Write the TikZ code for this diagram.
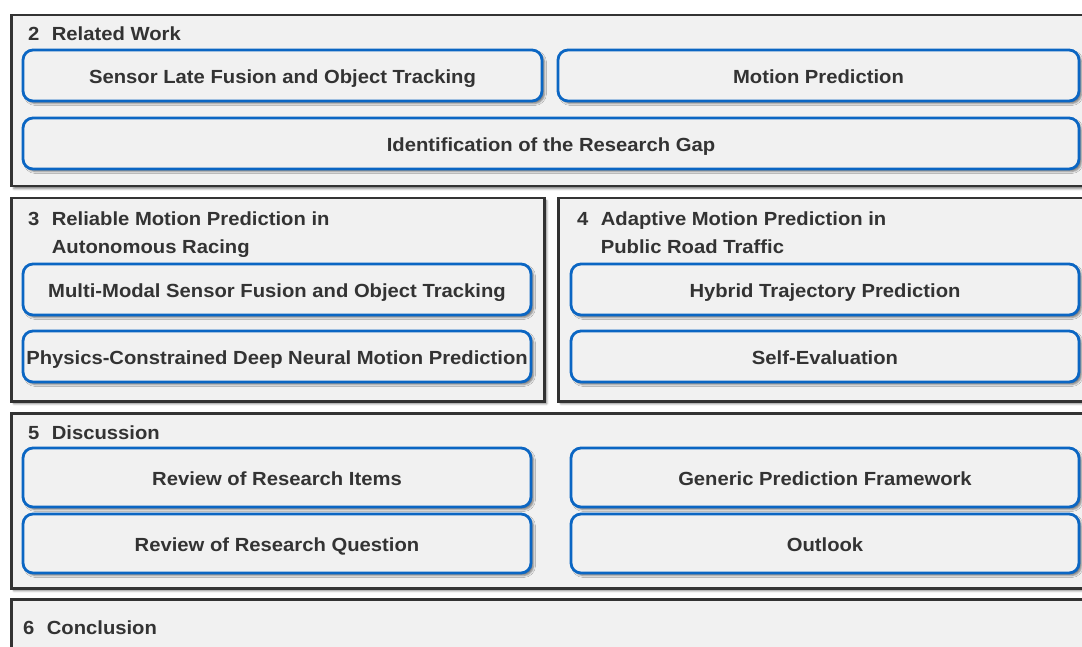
\documentclass[tikz,border=0pt]{standalone}
\usepackage{fontspec}
\setmainfont{Liberation Sans}[FakeStretch=1.065]
\usepackage{xcolor}
\usetikzlibrary{shadows.blur}

\definecolor{framegray}{HTML}{333333}
\definecolor{itemblue}{HTML}{0B66C3}
\definecolor{panelfill}{HTML}{F1F1F1}
\definecolor{textgray}{HTML}{333333}

\begin{document}
\begin{tikzpicture}[
    x=1pt, y=-1pt,
    panel/.style={rectangle, draw=framegray, line width=2.5pt, fill=panelfill, anchor=north west, inner sep=0pt,
        blur shadow={shadow xshift=2.5pt, shadow yshift=-2.5pt, shadow blur radius=2pt, shadow opacity=50}},
    item/.style={rectangle, draw=itemblue, line width=2.8pt, fill=panelfill, rounded corners=10pt, inner sep=0pt,
        minimum height=51pt, text height=16.5pt, text depth=0pt, text=textgray, font=\fontsize{19}{22}\selectfont\bfseries,
        blur shadow={shadow xshift=2.5pt, shadow yshift=-2.5pt, shadow blur radius=2pt, shadow opacity=50}},
    heading/.style={anchor=base west, inner sep=0pt, align=left, text=textgray, font=\fontsize{19}{28}\selectfont\bfseries}
]
\useasboundingbox (0,0) rectangle (1082,647);
\clip (0,0) rectangle (1082,647);

% Chapter 2
\node[panel, minimum width=1080pt, minimum height=171pt] (sec2) at (10,14) {};
\node[heading] (head2) at (28,41) {2\hskip0.65em Related Work};
\node[item, minimum width=519pt] (latefusion) at (282.5,75.5) {Sensor Late Fusion and Object Tracking};
\node[item, minimum width=521pt] (motionpred) at (818.5,75.5) {Motion Prediction};
\node[item, minimum width=1056pt] (researchgap) at (551,143.5) {Identification of the Research Gap};

% Chapter 3 (base = last line)
\node[panel, minimum width=533pt, minimum height=203pt] (sec3) at (10,197) {};
\node[heading] (head3) at (28,253.5) {3\hskip0.65em Reliable Motion Prediction in\\\hphantom{3}\hskip0.65em Autonomous Racing};
\node[item, minimum width=508pt] (sensorfusion) at (277,289.5) {Multi-Modal Sensor Fusion and Object Tracking};
\node[item, minimum width=508pt] (physics) at (277,356.5) {Physics-Constrained Deep Neural Motion Prediction};

% Chapter 4
\node[panel, minimum width=533pt, minimum height=203pt] (sec4) at (557,197) {};
\node[heading] (head4) at (577,253.5) {4\hskip0.65em Adaptive Motion Prediction in\\\hphantom{4}\hskip0.65em Public Road Traffic};
\node[item, minimum width=508pt] (hybrid) at (825,289.5) {Hybrid Trajectory Prediction};
\node[item, minimum width=508pt] (selfeval) at (825,356.5) {Self-Evaluation};

% Chapter 5
\node[panel, minimum width=1080pt, minimum height=175pt] (sec5) at (10,412) {};
\node[heading] (head5) at (28,439) {5\hskip0.65em Discussion};
\node[item, minimum width=508pt, minimum height=59pt] (reviewitems) at (277,477.5) {Review of Research Items};
\node[item, minimum width=508pt, minimum height=59pt] (framework) at (825,477.5) {Generic Prediction Framework};
\node[item, minimum width=508pt, minimum height=59pt] (reviewquestion) at (277,543.5) {Review of Research Question};
\node[item, minimum width=508pt, minimum height=59pt] (outlook) at (825,543.5) {Outlook};

% Chapter 6
\node[panel, minimum width=1080pt, minimum height=100pt] (sec6) at (10,598) {};
\node[heading] (head6) at (23,634) {6\hskip0.65em Conclusion};

\end{tikzpicture}
\end{document}
